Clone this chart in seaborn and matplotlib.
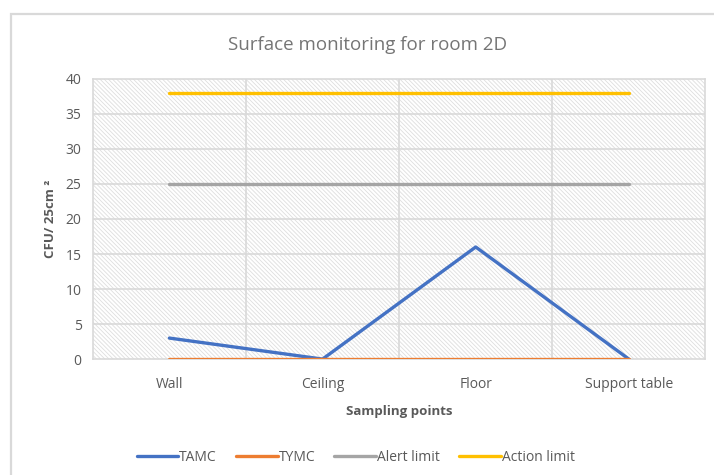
import pandas as pd
import matplotlib
import matplotlib.pyplot as plt
import seaborn as sns
from matplotlib.patches import Rectangle

matplotlib.use('Agg')

# Chart data
sampling_points = ["Wall", "Ceiling", "Floor", "Support table"]
tamc = [3, 0, 16, 0]
tymc = [0, 0, 0, 0]
alert_limit = [25, 25, 25, 25]
action_limit = [38, 38, 38, 38]

series_names = ["TAMC", "TYMC", "Alert limit", "Action limit"]
series_colors = ["#4472C4", "#ED7D31", "#A5A5A5", "#FFC000"]

# Long-format table for seaborn
df = pd.concat([
    pd.DataFrame({"point": sampling_points, "value": vals, "series": name})
    for name, vals in zip(series_names, [tamc, tymc, alert_limit, action_limit])
])

sns.set_theme(style="white")
plt.rcParams['font.family'] = ['Open Sans', 'DejaVu Sans']
plt.rcParams['hatch.linewidth'] = 0.6
text_gray = "#595959"
grid_gray = "#d9d9d9"

fig = plt.figure(figsize=(7.14, 4.75), dpi=100)
ax = fig.add_axes([0.130, 0.244, 0.858, 0.590])

# Outer chart border (partly cropped in the reference)
fig.patches.append(Rectangle((11 / 714, -0.05), 1.2, 1 - 14 / 475 + 0.05,
                             transform=fig.transFigure, fill=False,
                             edgecolor=grid_gray, lw=1.6, zorder=0))

# Hatched plot background
ax.add_patch(Rectangle((0, 0), 1, 1, transform=ax.transAxes, facecolor="white",
                       edgecolor="#dedede", hatch='\\' * 8, lw=0, zorder=0))

sns.lineplot(data=df, x="point", y="value", hue="series", hue_order=series_names,
             palette=series_colors, sort=False, lw=2.4, ax=ax, zorder=3)

ax.set_xlim(-0.5, 3.5)
ax.set_ylim(0, 40)
ax.set_yticks(range(0, 41, 5))
ax.set_xticks(range(len(sampling_points)))
ax.set_xticklabels(sampling_points)

# Grid lines at category boundaries and y ticks
for b in [0.5, 1.5, 2.5]:
    ax.axvline(b, color=grid_gray, lw=1.2, zorder=1)
for yv in range(5, 40, 5):
    ax.axhline(yv, color=grid_gray, lw=1.2, zorder=1)
for s in ax.spines.values():
    s.set_color(grid_gray)
    s.set_linewidth(1.2)

ax.tick_params(axis='y', length=0, labelsize=10, colors=text_gray, pad=8)
ax.tick_params(axis='x', length=0, labelsize=10, colors=text_gray, pad=13)
ax.set_xlabel("Sampling points", fontsize=9.5, fontweight="bold", color=text_gray, labelpad=9)
ax.set_ylabel("CFU/ 25cm ²", fontsize=9.5, fontweight="bold", color=text_gray, labelpad=6)
fig.text(0.515, 0.905, "Surface monitoring for room 2D", ha="center", va="center",
         fontsize=13.5, color="#757575")

sns.move_legend(ax, "center", bbox_to_anchor=(0.498, 0.037), bbox_transform=fig.transFigure,
                ncol=4, frameon=False, title=None, fontsize=10, handlelength=3.0,
                handletextpad=0.05, columnspacing=1.4)
for t in ax.get_legend().get_texts():
    t.set_color(text_gray)

fig.savefig("out.png", dpi=100)
